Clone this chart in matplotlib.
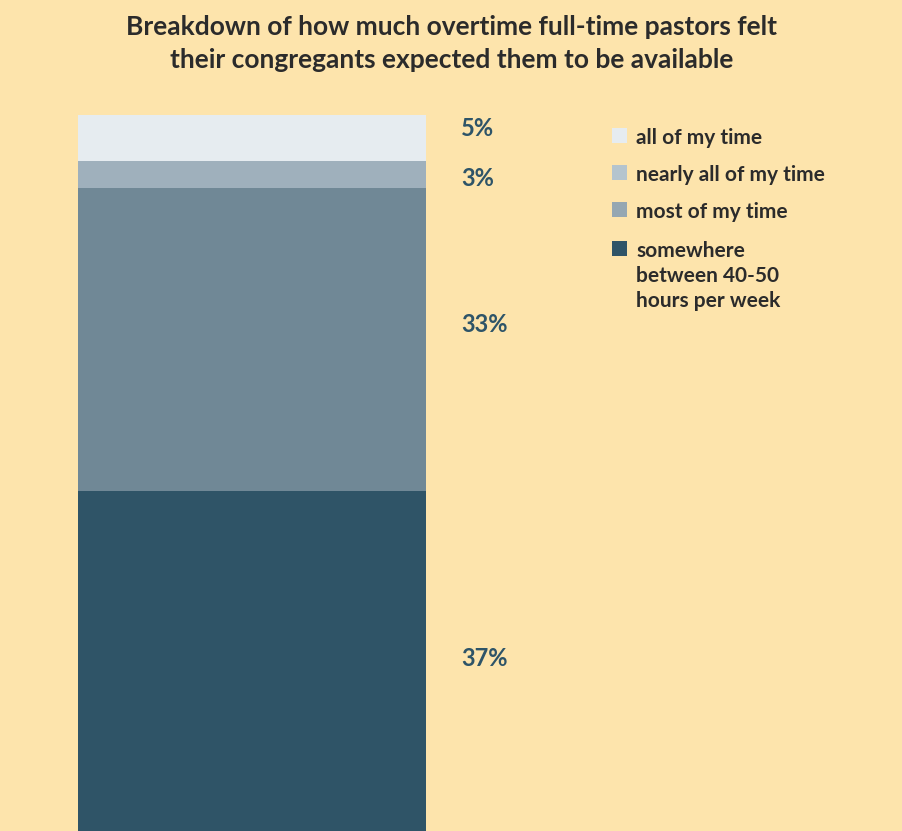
import numpy as np
import matplotlib
matplotlib.use('Agg')
import matplotlib.pyplot as plt
from matplotlib.patches import Rectangle

plt.rcParams['font.family'] = ['Lato', 'DejaVu Sans']

# stacked from the bottom up
categories = ['somewhere\nbetween 40-50\nhours per week', 'most of my time',
              'nearly all of my time', 'all of my time']
shares = [37, 33, 3, 5]
bar_colors = ['#2F5467', '#708896', '#9FB0BC', '#E6ECF0']
legend_colors = ['#2F5467', '#95A7B2', '#B4C4CE', '#E6ECF0']

BG = '#FDE4AC'
TEXT = '#2B2B2B'
LABEL = '#2E5468'

W, H = 903, 831
fig = plt.figure(figsize=(W / 100, H / 100), dpi=100)
fig.patch.set_facecolor(BG)

ax = fig.add_axes([78 / W, 0, 348 / W, 716 / H])
ax.set_facecolor(BG)

# small vertical nudges (points) for the value labels
nudge = [2, 11, -3, 7]

bottom = 0
for val, c, dy in zip(shares, bar_colors, nudge):
    ax.bar(0, val, width=1.0, bottom=bottom, color=c, linewidth=0)
    ax.annotate(f'{val}%', (0.5 + 35 / 348, bottom + val / 2),
                xytext=(0, dy), textcoords='offset points',
                ha='left', va='center', fontsize=17, fontweight='bold',
                color=LABEL, annotation_clip=False)
    bottom += val

ax.set_xlim(-0.5, 0.5)
ax.set_ylim(0, sum(shares))
ax.axis('off')

fig.text(0.5, 1 - 27 / H, 'Breakdown of how much overtime full-time pastors felt',
         ha='center', va='center', fontsize=19, fontweight='bold', color=TEXT)
fig.text(0.5, 1 - 60 / H, 'their congregants expected them to be available',
         ha='center', va='center', fontsize=19, fontweight='bold', color=TEXT)

# legend, top entry first
row_y = [136, 173, 210, 249]
for y, lab, c in zip(row_y, categories[::-1], legend_colors[::-1]):
    fig.add_artist(Rectangle((612 / W, 1 - (y + 7) / H), 15 / W, 15 / H,
                             transform=fig.transFigure, facecolor=c,
                             edgecolor='none'))
    fig.text(636 / W, 1 - (y - 8) / H, lab, ha='left', va='top',
             fontsize=15, fontweight='bold', color=TEXT, linespacing=1.3)

fig.savefig('out.png', dpi=100, facecolor=BG)
